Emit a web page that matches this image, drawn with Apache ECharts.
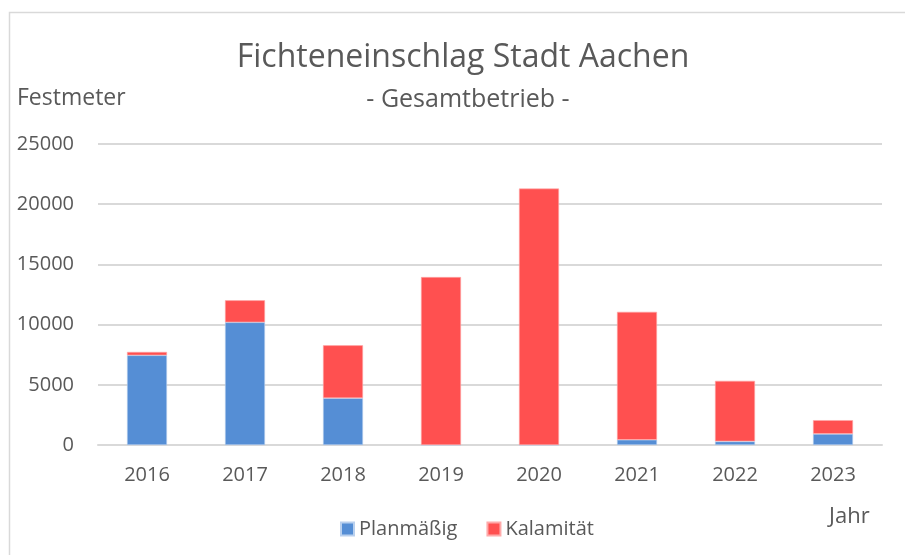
<!DOCTYPE html>
<html>
<head>
<meta charset="utf-8">
<script src="https://cdn.jsdelivr.net/npm/echarts@6/dist/echarts.min.js"></script>
<style>
  html, body { margin: 0; padding: 0; background: #fff; }
  #chart { width: 905px; height: 555px; }
</style>
</head>
<body>
<div id="chart"></div>
<script>
const years = ['2016', '2017', '2018', '2019', '2020', '2021', '2022', '2023']
// Planmäßig (blau) und Kalamität (rot), Festmeter
const planmaessig = [7450, 10190, 3890, 0, 0, 430, 300, 920]
const kalamitaet = [280, 1830, 4390, 13950, 21300, 10630, 5030, 1140]
const yTicks = [0, 5000, 10000, 15000, 20000, 25000]

const font = '"Open Sans", "Liberation Sans", sans-serif'
const textColor = '#595959'

const chart = echarts.init(document.getElementById('chart'))
chart.setOption({
  animation: false,
  textStyle: { fontFamily: font },
  graphic: [
    {
      type: 'rect',
      shape: { x: 9.5, y: 12.5, width: 920, height: 560 },
      style: { fill: 'none', stroke: '#d9d9d9', lineWidth: 1.5 },
      silent: true
    },
    {
      type: 'text', x: 463, y: 58,
      style: {
        text: 'Fichteneinschlag Stadt Aachen', fontSize: 32, fill: textColor,
        fontFamily: font, align: 'center', verticalAlign: 'middle'
      }
    },
    {
      type: 'text', x: 468, y: 100,
      style: {
        text: '- Gesamtbetrieb -', fontSize: 25, fill: textColor,
        fontFamily: font, align: 'center', verticalAlign: 'middle'
      }
    },
    {
      type: 'text', x: 17, y: 98,
      style: { text: 'Festmeter', fontSize: 23, fill: textColor, fontFamily: font, verticalAlign: 'middle' }
    },
    {
      type: 'text', x: 829, y: 517,
      style: { text: 'Jahr', fontSize: 22, fill: textColor, fontFamily: font, verticalAlign: 'middle' }
    }
  ],
  legend: {
    data: ['Planmäßig', 'Kalamität'],
    left: 335,
    top: 514,
    itemWidth: 13,
    itemHeight: 13,
    itemGap: 29,
    icon: 'rect',
    textStyle: { fontSize: 20, color: textColor, fontFamily: font }
  },
  grid: { left: 98, right: 23, top: 144, bottom: 110, containLabel: false },
  xAxis: {
    type: 'category',
    data: years,
    axisTick: { show: false },
    axisLine: { lineStyle: { color: '#d9d9d9', width: 2 } },
    axisLabel: { fontSize: 20, color: textColor, margin: 20, fontFamily: font }
  },
  yAxis: {
    type: 'value',
    min: 0,
    max: 25000,
    interval: 5000,
    axisLine: { show: false },
    axisTick: { show: false },
    splitLine: { lineStyle: { color: '#d9d9d9', width: 2 } },
    axisLabel: {
      fontSize: 20, color: textColor, margin: 24, fontFamily: font,
      formatter: v => yTicks.includes(v) ? String(v) : ''
    }
  },
  series: [
    {
      name: 'Planmäßig',
      type: 'bar',
      stack: 'total',
      barWidth: 40,
      data: planmaessig,
      itemStyle: { color: '#558ed5', borderColor: '#b9d0ee', borderWidth: 0.6 }
    },
    {
      name: 'Kalamität',
      type: 'bar',
      stack: 'total',
      barWidth: 40,
      data: kalamitaet,
      itemStyle: { color: '#ff5050', borderColor: '#ffaaaa', borderWidth: 0.6 }
    }
  ]
})
</script>
</body>
</html>
